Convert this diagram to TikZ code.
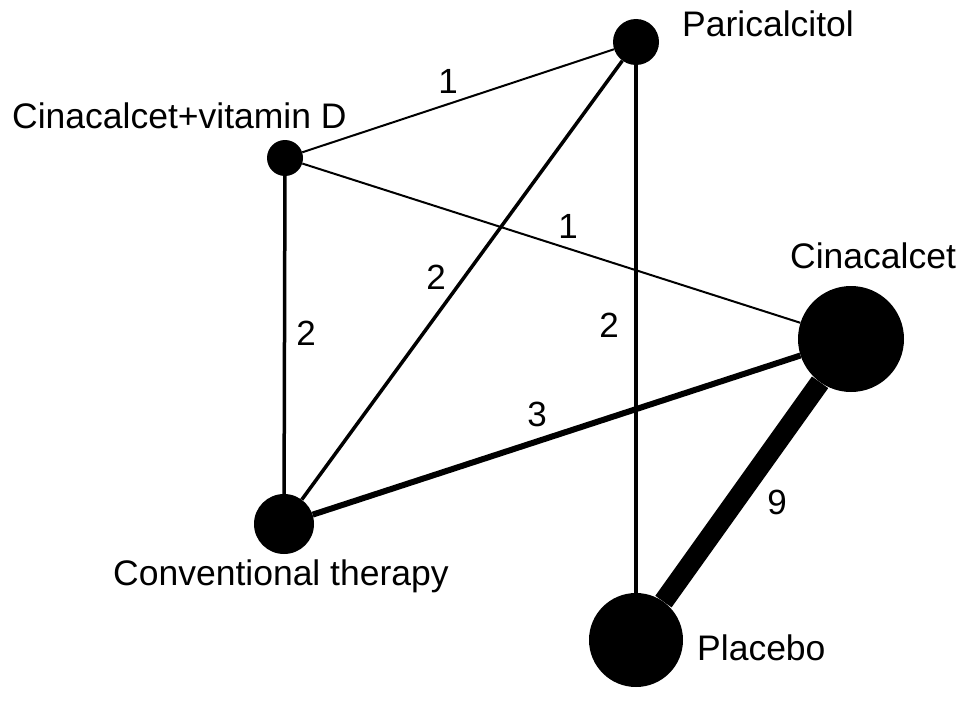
\documentclass[tikz,border=0pt]{standalone}
\usepackage{fontspec}
\setmainfont{Liberation Sans}
\begin{document}
\begin{tikzpicture}[x=1pt,y=-1pt,
  dot/.style={circle,fill=black,draw=none,inner sep=0pt,minimum size=#1},
  lbl/.style={font=\fontsize{35.5}{42}\selectfont,inner sep=0pt},
  num/.style={font=\fontsize{35}{42}\selectfont,inner sep=0pt,anchor=center},
  w1/.style={line width=2pt},
  w2/.style={line width=3.5pt},
  w3/.style={line width=6pt},
  w9/.style={line width=20pt}]
\useasboundingbox[fill=white] (0,0) rectangle (969,701);
% nodes
\node[dot=46pt] (par) at (636,42) {};
\node[dot=36pt] (cvd) at (285,158) {};
\node[dot=106pt] (cin) at (851,339) {};
\node[dot=60pt] (con) at (284,524) {};
\node[dot=94pt] (pla) at (636,640) {};
% edges
\draw[w1] (cvd) -- (par);
\draw[w1] (cvd) -- (cin);
\draw[w2] (cvd) -- (con);
\draw[w2] (par) -- (con);
\draw[w2] (par) -- (pla);
\draw[w3] (con) -- (cin);
\draw[w9] (cin) -- (pla);
% labels
\node[lbl,anchor=base west] (tpar) at (682,37) {Paricalcitol};
\node[lbl,anchor=base west] (tcvd) at (12,128) {Cinacalcet+vitamin D};
\node[lbl,anchor=base west] (tcin) at (790,268) {Cinacalcet};
\node[lbl,anchor=base west] (tcon) at (113,585) {Conventional therapy};
\node[lbl,anchor=base west] (tpla) at (697,660) {Placebo};
% edge numbers
\node[num] (n1) at (448,81) {1};
\node[num] (n2) at (568,226) {1};
\node[num] (n3) at (306,333) {2};
\node[num] (n4) at (436,277) {2};
\node[num] (n5) at (609,325) {2};
\node[num] (n6) at (537,414) {3};
\node[num] (n7) at (777,502) {9};
\end{tikzpicture}
\end{document}
